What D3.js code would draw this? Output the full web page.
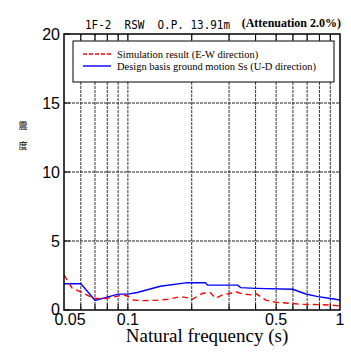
<!DOCTYPE html>
<html>
<head>
<meta charset="utf-8">
<script src="https://cdn.jsdelivr.net/npm/d3@7"></script>
<style>
  body { margin: 0; background: #fff; }
  svg { display: block; }
</style>
</head>
<body>
<svg id="chart"></svg>
<script>
// Response spectrum, 1F-2 RSW
const freqTicks = [0.06, 0.07, 0.08, 0.09, 0.1, 0.2, 0.3, 0.4, 0.5, 0.6, 0.7, 0.8, 0.9];
const xLabels = [0.05, 0.1, 0.5, 1];
const yTicks = [0, 5, 10, 15, 20];

// Simulation result (E-W direction)
const simFreq = [0.05, 0.0545, 0.0595, 0.0686, 0.0765, 0.0871, 0.095, 0.1, 0.106, 0.118, 0.135, 0.155, 0.177, 0.197, 0.2, 0.225, 0.245, 0.259, 0.28, 0.305, 0.322, 0.348, 0.388, 0.4, 0.447, 0.499, 0.587, 0.654, 0.787, 0.907, 1.0];
const simVal = [2.55, 1.6, 1.33, 0.87, 0.8, 0.97, 1.09, 1.0, 0.72, 0.68, 0.7, 0.78, 0.97, 0.85, 0.75, 1.21, 1.26, 0.85, 1.1, 1.21, 1.33, 1.16, 1.09, 1.21, 0.72, 0.56, 0.48, 0.41, 0.39, 0.36, 0.29];

// Design basis ground motion Ss (U-D direction)
const ssFreq = [0.05, 0.0601, 0.0701, 0.09, 0.1, 0.1107, 0.1423, 0.1909, 0.2323, 0.2374, 0.3293, 0.34, 0.4003, 0.5995, 0.69, 0.787, 0.887, 1.0];
const ssVal = [1.9, 1.9, 0.7, 1.15, 1.15, 1.27, 1.72, 1.98, 1.98, 1.8, 1.8, 1.62, 1.57, 1.5, 1.16, 0.97, 0.85, 0.72];

const W = 351, H = 361;
const margin = { top: 34, right: 11, bottom: 51, left: 64 };

const svg = d3.select("#chart").attr("width", W).attr("height", H);

const x = d3.scaleLog().domain([0.05, 1]).range([margin.left, W - margin.right]);
const y = d3.scaleLinear().domain([0, 20]).range([H - margin.bottom, margin.top]);

const plotTop = y(20), plotBottom = y(0), plotLeft = x(0.05), plotRight = x(1);

// grid lines
svg.append("g")
  .selectAll("line")
  .data(freqTicks)
  .join("line")
  .attr("x1", d => x(d)).attr("x2", d => x(d))
  .attr("y1", plotTop).attr("y2", plotBottom)
  .attr("stroke", "#333")
  .attr("stroke-width", 1)
  .attr("stroke-dasharray", "3,1");

svg.append("g")
  .selectAll("line")
  .data(yTicks.filter(d => d > 0 && d < 20))
  .join("line")
  .attr("x1", plotLeft).attr("x2", plotRight)
  .attr("y1", d => y(d)).attr("y2", d => y(d))
  .attr("stroke", "#222")
  .attr("stroke-width", 1)
  .attr("stroke-dasharray", "3,1");

// tick marks on the frame
svg.append("g")
  .selectAll("line")
  .data(freqTicks)
  .join("line")
  .attr("x1", d => x(d)).attr("x2", d => x(d))
  .attr("y1", plotTop).attr("y2", plotTop + 6)
  .attr("stroke", "#000");
svg.append("g")
  .selectAll("line")
  .data(freqTicks)
  .join("line")
  .attr("x1", d => x(d)).attr("x2", d => x(d))
  .attr("y1", plotBottom).attr("y2", plotBottom - 6)
  .attr("stroke", "#000");
svg.append("g")
  .selectAll("line")
  .data(yTicks)
  .join("line")
  .attr("x1", plotLeft).attr("x2", plotLeft + 6)
  .attr("y1", d => y(d)).attr("y2", d => y(d))
  .attr("stroke", "#000");

// curves
const line = d3.line().x(d => x(d[0])).y(d => y(d[1]));

svg.append("path")
  .datum(d3.zip(ssFreq, ssVal))
  .attr("d", line)
  .attr("fill", "none")
  .attr("stroke", "#0000ff")
  .attr("stroke-width", 1.4);

svg.append("path")
  .datum(d3.zip(simFreq, simVal))
  .attr("d", line)
  .attr("fill", "none")
  .attr("stroke", "#ff0000")
  .attr("stroke-width", 1.4)
  .attr("stroke-dasharray", "6,4");

// frame
svg.append("rect")
  .attr("x", plotLeft).attr("y", plotTop)
  .attr("width", plotRight - plotLeft).attr("height", plotBottom - plotTop)
  .attr("fill", "none")
  .attr("stroke", "#000")
  .attr("stroke-width", 1.5);

// legend
const lg = svg.append("g");
lg.append("rect")
  .attr("x", 73).attr("y", 41).attr("width", 261).attr("height", 41)
  .attr("fill", "#fff").attr("stroke", "#000").attr("stroke-width", 1);
lg.append("line")
  .attr("x1", 83).attr("x2", 111).attr("y1", 54).attr("y2", 54)
  .attr("stroke", "#ff0000").attr("stroke-width", 1.4).attr("stroke-dasharray", "4,2");
lg.append("line")
  .attr("x1", 83).attr("x2", 111).attr("y1", 66).attr("y2", 66)
  .attr("stroke", "#0000ff").attr("stroke-width", 1.4);
lg.append("text")
  .attr("x", 117).attr("y", 57.5)
  .attr("font-family", "Liberation Serif").attr("font-size", 10.5)
  .text("Simulation result (E-W direction)");
lg.append("text")
  .attr("x", 117).attr("y", 69.5)
  .attr("font-family", "Liberation Serif").attr("font-size", 10.5)
  .text("Design basis ground motion Ss (U-D direction)");

// y tick labels
svg.append("g")
  .selectAll("text")
  .data(yTicks)
  .join("text")
  .attr("x", 60)
  .attr("y", d => y(d))
  .attr("dy", d => d === 0 ? "0.3em" : "0.36em")
  .attr("text-anchor", "end")
  .attr("font-family", "Liberation Sans")
  .attr("font-size", 16)
  .text(d => d);

// x tick labels
svg.append("g")
  .selectAll("text")
  .data(xLabels)
  .join("text")
  .attr("x", d => d === 0.05 ? x(d) + 6 : x(d))
  .attr("y", 325)
  .attr("text-anchor", "middle")
  .attr("font-family", "Liberation Sans")
  .attr("font-size", 16)
  .text(d => d);

// axis titles
svg.append("text")
  .attr("x", 207).attr("y", 342)
  .attr("text-anchor", "middle")
  .attr("font-family", "Liberation Serif")
  .attr("font-size", 19)
  .text("Natural frequency (s)");

svg.append("text")
  .attr("x", 23).attr("y", 129)
  .attr("text-anchor", "middle")
  .attr("font-family", "Noto Sans CJK JP")
  .attr("font-size", 9)
  .text("震");
svg.append("text")
  .attr("x", 23).attr("y", 149)
  .attr("text-anchor", "middle")
  .attr("font-family", "Noto Sans CJK JP")
  .attr("font-size", 9)
  .text("度");

// title
svg.append("text")
  .attr("x", 85).attr("y", 29)
  .attr("font-family", "DejaVu Sans Mono")
  .attr("font-size", 12.5)
  .attr("textLength", 145)
  .attr("lengthAdjust", "spacingAndGlyphs")
  .style("white-space", "pre")
  .text("1F-2  RSW  O.P. 13.91m");

svg.append("text")
  .attr("x", 341).attr("y", 27)
  .attr("text-anchor", "end")
  .attr("font-family", "Liberation Serif")
  .attr("font-weight", "bold")
  .attr("font-size", 12)
  .text("(Attenuation 2.0%)");
</script>
</body>
</html>
